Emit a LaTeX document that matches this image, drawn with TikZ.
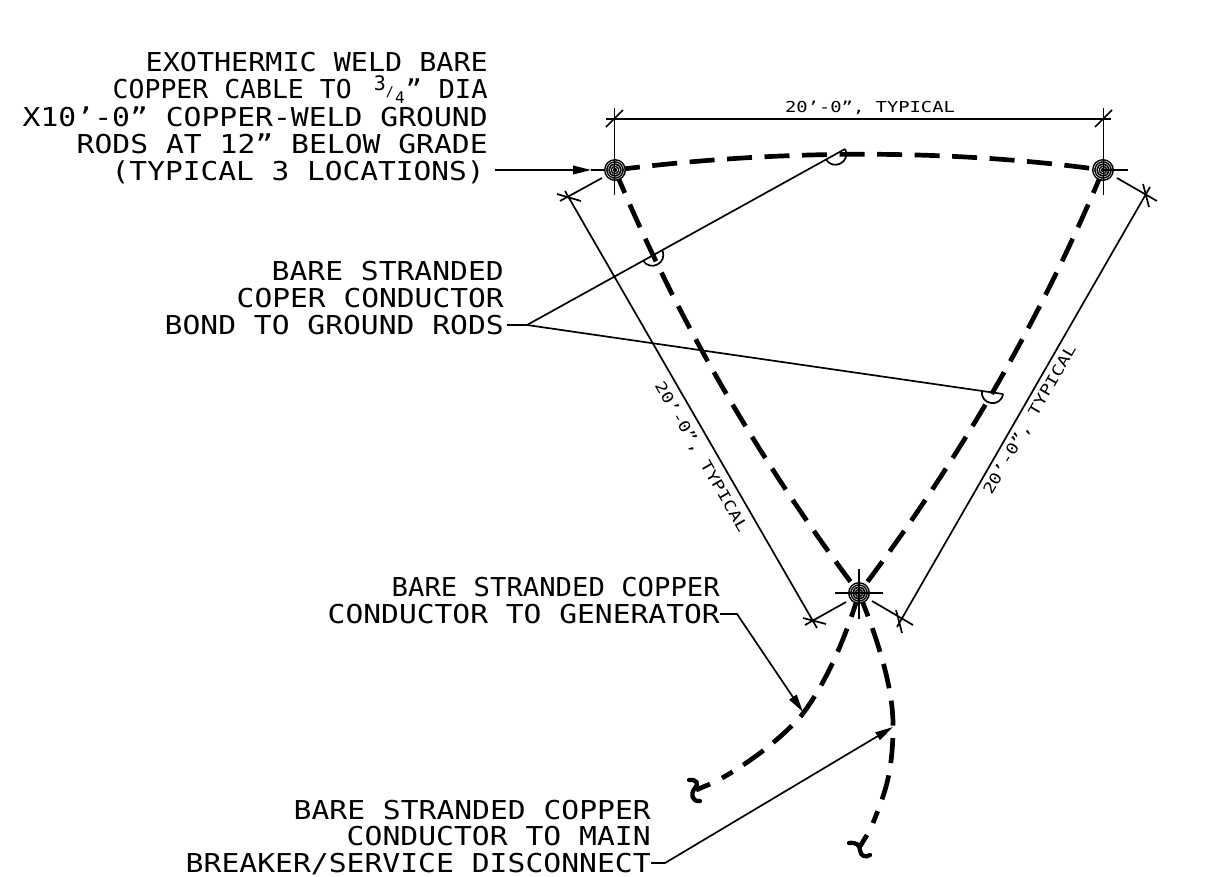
\documentclass[tikz,border=0pt]{standalone}
\usepackage{fontspec}
\setmainfont{DejaVu Sans Mono}
\usetikzlibrary{arrows.meta}
\tikzset{
 thinln/.style={line width=1.7pt*0.75},
 leader/.style={thinln,-{Triangle[length=13.5pt,width=6.5pt]}},
 wire/.style={line width=4.7pt*0.75,dash pattern=on 18.75pt off 9.4pt},
 breakm/.style={line width=3.2pt,line cap=round},
 lab/.style={anchor=base east,inner sep=0pt},
 dimt/.style={inner sep=0pt},
}
\newsavebox{\lbox}
% fit text to a width in reference pixels
\newcommand{\fitl}[3]{\sbox{\lbox}{\fontsize{#1}{#1}\selectfont #3}\pgfmathsetmacro{\fitfac}{#2*0.75/\wd\lbox}\scalebox{\fitfac}[1]{\usebox{\lbox}}}
\newcommand{\biglab}[2]{\fitl{19.5}{#1}{#2}}
\newcommand{\dimlab}{\fitl{11.3}{170}{20'-0", TYPICAL}}
\newcommand{\rodsym}[1]{%
 \fill[black] (#1) circle (11);
 \foreach \r in {9.2,7,4.8,2.6}{\draw[white,line width=0.35pt] (#1) circle (\r);}
}
\begin{document}
\begin{tikzpicture}[x=0.75pt,y=-0.75pt]
\useasboundingbox (0,0) rectangle (1210,876);
\coordinate (A) at (615,170);
\coordinate (B) at (1103,170);
\coordinate (C) at (859,593);
% wires
\draw[wire] (A) .. controls (780,149) and (950,149) .. (B);
\draw[wire] (A) .. controls (678,321) and (760,462) .. (C);
\draw[wire] (B) .. controls (1040,321) and (958,462) .. (C);
\draw[wire] (C) .. controls (845,640) and (825,685) .. (801,716) .. controls (775,745) and (740,768) .. (722,778);
\draw[wire] (C) .. controls (880,645) and (893,690) .. (893,725) .. controls (893,775) and (884,795) .. (873,823);
% break marks
\draw[line width=4.7pt*0.75] (710,784) -- (696,790);
\draw[line width=4.7pt*0.75] (867,835) -- (859,848);
\draw[breakm] (689,780) .. controls (697,779) and (699,784) .. (695,788) .. controls (690,794) and (692,802) .. (700,801);
\draw[breakm] (849,843) .. controls (856,842) and (860,845) .. (860,850) .. controls (860,856) and (866,858) .. (870,855);
% rods
\rodsym{A}\rodsym{B}\rodsym{C}
% extension + dims
\draw[thinln] (614.5,108) -- (614.5,195);
\draw[thinln] (1103.5,108) -- (1103.5,195);
\draw[thinln] (B) -- (1128,170);
\draw[thinln] (859,569) -- (859,619);
\draw[thinln] (835,593) -- (883,593);
\draw[thinln] (606,119) -- (1111,119);
\draw[thinln] (606,127) -- (623,110);
\draw[thinln] (1095,127) -- (1112,110);
\draw[thinln] (602,178) -- (560,201);
\draw[thinln] (557,194) -- (581,201);
\draw[thinln] (846,602) -- (805,625);
\draw[thinln] (803,618) -- (826,624);
\draw[thinln] (565,191) -- (817,628);
\draw[thinln] (1117,178) -- (1157,201);
\draw[thinln] (1143,184) -- (1149,207);
\draw[thinln] (872,601) -- (913,625);
\draw[thinln] (896,610) -- (902,633);
\draw[thinln] (1150,187) -- (897,627);
% labels
\node[lab] (a1) at (488,71.5) {\biglab{342}{EXOTHERMIC WELD BARE}};
\node[lab] (a2a) at (352,98.5) {\biglab{239}{COPPER CABLE TO}};
\node[inner sep=0pt] (a2b) at (380,83) {\fontsize{15}{15}\selectfont 3};
\node[inner sep=0pt] (a2c) at (390,92) {\fontsize{10}{10}\selectfont /};
\node[inner sep=0pt] (a2d) at (400,98) {\fontsize{12}{12}\selectfont 4};
\node[lab] (a2e) at (488,98.5) {\biglab{82}{" DIA}};
\node[lab] (a3) at (488,126.5) {\biglab{465}{X10'-0" COPPER-WELD GROUND}};
\node[lab] (a4) at (488,153.5) {\biglab{411}{RODS AT 12" BELOW GRADE}};
\node[lab] (a5) at (485,180.5) {\biglab{373}{(TYPICAL 3 LOCATIONS)}};
\node[lab] (b1) at (504,280.5) {\biglab{232}{BARE STRANDED}};
\node[lab] (b2) at (504,307.5) {\biglab{267}{COPER CONDUCTOR}};
\node[lab] (b3) at (504,334.5) {\biglab{339}{BOND TO GROUND RODS}};
\node[lab] (c1) at (720,596.5) {\biglab{328}{BARE STRANDED COPPER}};
\node[lab] (c2) at (720,623.5) {\biglab{392}{CONDUCTOR TO GENERATOR}};
\node[lab] (d1) at (651,819.5) {\biglab{357}{BARE STRANDED COPPER}};
\node[lab] (d2) at (651,845.5) {\biglab{304}{CONDUCTOR TO MAIN}};
\node[lab] (d3) at (651,872.5) {\biglab{465}{BREAKER/SERVICE DISCONNECT}};
\node[dimt] (t1) at (870,107.5) {\dimlab};
\node[dimt,rotate=-60] (t2) at (701,457) {\dimlab};
\node[dimt,rotate=60] (t3) at (1030,420) {\dimlab};
% leaders
\coordinate (e1) at (495,170);
\draw[leader] (e1) -- (591,170);
\draw[thinln] (591,170) -- (604,170);
\coordinate (j) at (527,325);
\draw[thinln] (507,325) -- (j);
\draw[thinln] (j) -- (845,149);
\draw[thinln] (j) -- (1003,394);
\draw[leader] (720,614) -- (737,614) -- (803,712);
\draw[leader] (651,863) -- (665,863) -- (893,727);
% semicircle junction marks
\draw[thinln] (826,159) .. controls (832.6,171.6) and (851.6,161.6) .. (845,149);
\draw[thinln] (643,260) .. controls (649.6,272.6) and (668.6,262.6) .. (662,250);
\draw[thinln] (982,391) .. controls (980,405) and (1001,408) .. (1003,394);
\end{tikzpicture}
\end{document}
